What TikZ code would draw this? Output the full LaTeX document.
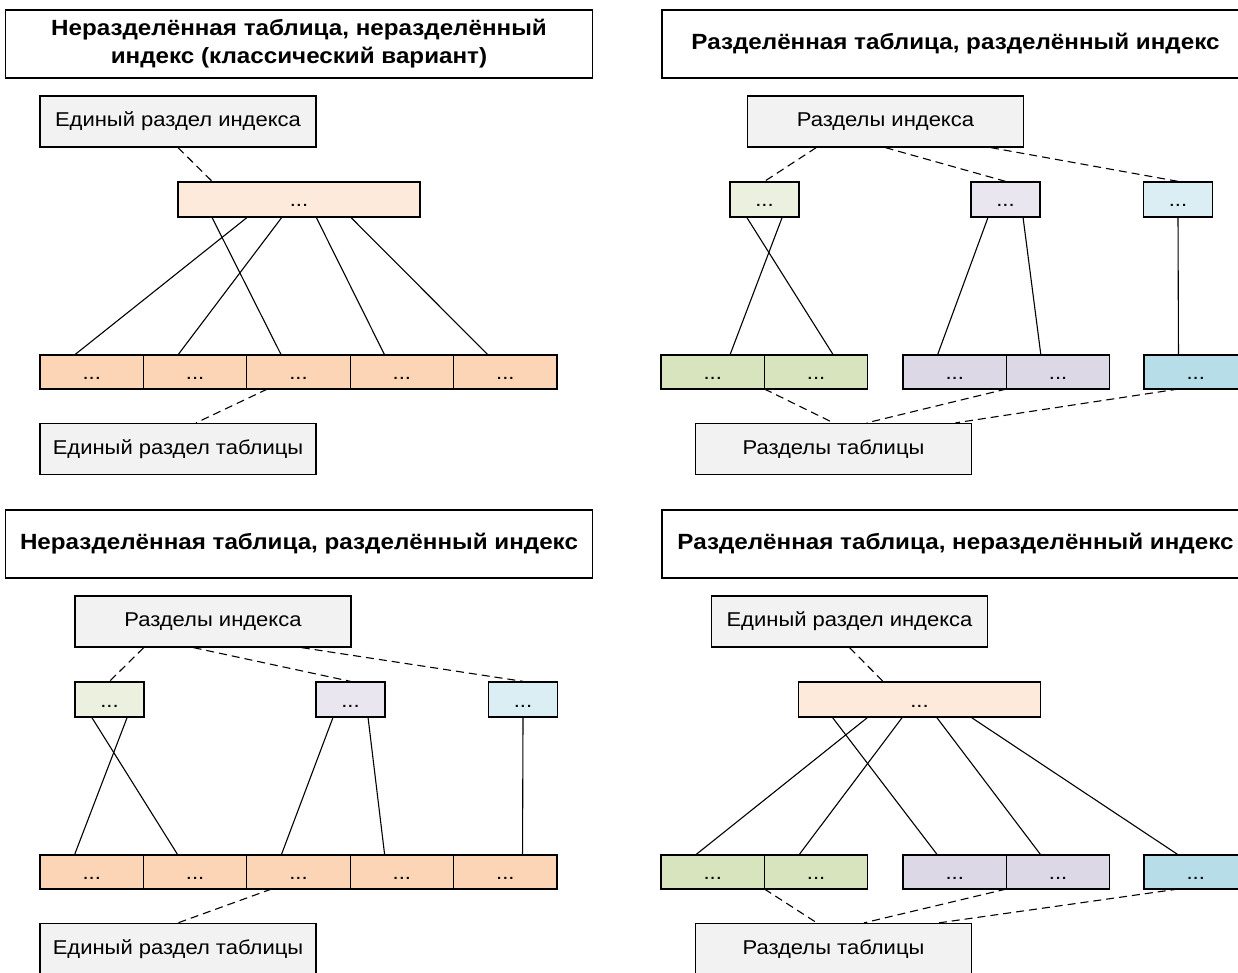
\documentclass[tikz,border=0pt]{standalone}
\usepackage{fontspec}
\setmainfont[FakeStretch=1.1]{Liberation Sans}
\usetikzlibrary{positioning, calc}
\definecolor{partgrey}{HTML}{F2F2F2}
\definecolor{orgA}{HTML}{FDEADA}
\definecolor{orgB}{HTML}{FBD5B5}
\definecolor{grnA}{HTML}{EBF1DE}
\definecolor{grnB}{HTML}{D7E4BD}
\definecolor{purA}{HTML}{E9E6EF}
\definecolor{purB}{HTML}{DDD8E6}
\definecolor{bluA}{HTML}{DBEEF4}
\definecolor{bluB}{HTML}{B7DEE8}
\tikzset{
  head/.style = {rectangle, draw=black, line width=1.4pt, fill=white, minimum width=587pt, minimum height=68pt, align=center, font=\fontsize{22}{28}\selectfont\bfseries, inner sep=0pt},
  part/.style = {rectangle, draw=black, line width=1.3pt, fill=partgrey, minimum width=276pt, minimum height=51pt, font=\fontsize{20}{24}\selectfont, inner sep=0pt},
  cell/.style = {rectangle, draw=black, line width=1.3pt, fill=#1, minimum width=103.4pt, minimum height=34pt, inner sep=0pt, outer sep=0pt, text height=15pt, text depth=0pt, font=\fontsize{20}{24}\selectfont},
  key/.style = {rectangle, draw=black, line width=1.3pt, fill=#1, minimum width=69pt, minimum height=35pt, inner sep=0pt, text height=15pt, text depth=0pt, font=\fontsize{20}{24}\selectfont},
  wide/.style = {rectangle, draw=black, line width=1.3pt, fill=orgA, minimum width=242pt, minimum height=35pt, inner sep=0pt, text height=15pt, text depth=0pt, font=\fontsize{20}{24}\selectfont},
  link/.style = {line width=1.1pt},
  dlink/.style = {line width=1.1pt, dash pattern=on 8pt off 5pt}
}

\begin{document}
\begin{tikzpicture}[x=1pt, y=-1pt]
\useasboundingbox (0,0) rectangle (1238,973);

% ===== Panel 1 (top left) =====
\node[head] (p1t) at (299,44) {Неразделённая таблица, неразделённый\\индекс (классический вариант)};
\node[part] (p1i) at (178,121.5) {Единый раздел индекса};
\node[wide] (p1m) at (299,199.5) {...};
\node[cell=orgB, anchor=west] (p1c1) at (40,372) {...};
\node[cell=orgB, right=0pt of p1c1] (p1c2) {...};
\node[cell=orgB, right=0pt of p1c2] (p1c3) {...};
\node[cell=orgB, right=0pt of p1c3] (p1c4) {...};
\node[cell=orgB, right=0pt of p1c4] (p1c5) {...};
\node[part] (p1tab) at (178,449) {Единый раздел таблицы};

% ===== Panel 2 (top right) =====
\node[head] (p2t) at (955.5,44) {Разделённая таблица, разделённый индекс};
\node[part] (p2i) at (885.5,121.5) {Разделы индекса};
\node[key=grnA] (p2g) at (764.5,199.5) {...};
\node[key=purA] (p2p) at (1005.5,199.5) {...};
\node[key=bluA] (p2b) at (1178,199.5) {...};
\node[cell=grnB, anchor=west] (p2c1) at (661,372) {...};
\node[cell=grnB, right=0pt of p2c1] (p2c2) {...};
\node[cell=purB, anchor=west] (p2c3) at (903,372) {...};
\node[cell=purB, right=0pt of p2c3] (p2c4) {...};
\node[cell=bluB, anchor=west] (p2c5) at (1144,372) {...};
\node[part] (p2tab) at (833.5,449) {Разделы таблицы};

% ===== Panel 3 (bottom left) =====
\node[head] (p3t) at (299,544) {Неразделённая таблица, разделённый индекс};
\node[part] (p3i) at (213,621.5) {Разделы индекса};
\node[key=grnA] (p3g) at (109.5,699.5) {...};
\node[key=purA] (p3p) at (350.5,699.5) {...};
\node[key=bluA] (p3b) at (523,699.5) {...};
\node[cell=orgB, anchor=west] (p3c1) at (40,872) {...};
\node[cell=orgB, right=0pt of p3c1] (p3c2) {...};
\node[cell=orgB, right=0pt of p3c2] (p3c3) {...};
\node[cell=orgB, right=0pt of p3c3] (p3c4) {...};
\node[cell=orgB, right=0pt of p3c4] (p3c5) {...};
\node[part] (p3tab) at (178,949) {Единый раздел таблицы};

% ===== Panel 4 (bottom right) =====
\node[head] (p4t) at (955.5,544) {Разделённая таблица, неразделённый индекс};
\node[part] (p4i) at (849.5,621.5) {Единый раздел индекса};
\node[wide] (p4m) at (919.5,699.5) {...};
\node[cell=grnB, anchor=west] (p4c1) at (661,872) {...};
\node[cell=grnB, right=0pt of p4c1] (p4c2) {...};
\node[cell=purB, anchor=west] (p4c3) at (903,872) {...};
\node[cell=purB, right=0pt of p4c3] (p4c4) {...};
\node[cell=bluB, anchor=west] (p4c5) at (1144,872) {...};
\node[part] (p4tab) at (833.5,949) {Разделы таблицы};

% ----- LINKS -----
% Panel 1
\draw[dlink] (p1i.south) -- ($(p1m.north west)!1/7!(p1m.north east)$);
\draw[link] ($(p1m.south west)!1/7!(p1m.south east)$) -- ($(p1c3.north west)!1/3!(p1c3.north east)$);
\draw[link] ($(p1m.south west)!2/7!(p1m.south east)$) -- ($(p1c1.north west)!1/3!(p1c1.north east)$);
\draw[link] ($(p1m.south west)!3/7!(p1m.south east)$) -- ($(p1c2.north west)!1/3!(p1c2.north east)$);
\draw[link] ($(p1m.south west)!4/7!(p1m.south east)$) -- ($(p1c4.north west)!1/3!(p1c4.north east)$);
\draw[link] ($(p1m.south west)!5/7!(p1m.south east)$) -- ($(p1c5.north west)!1/3!(p1c5.north east)$);
\draw[dlink] ($(p1c3.south west)!0.2!(p1c3.south east)$) -- ($(p1tab.north west)!0.565!(p1tab.north east)$);

% Panel 2
\draw[dlink] ($(p2i.south west)!0.25!(p2i.south east)$) -- (p2g.north);
\draw[dlink] (p2i.south) -- (p2p.north);
\draw[dlink] ($(p2i.south west)!0.88!(p2i.south east)$) -- (p2b.north);
\draw[link] ($(p2g.south west)!1/4!(p2g.south east)$) -- ($(p2c2.north west)!2/3!(p2c2.north east)$);
\draw[link] ($(p2g.south west)!3/4!(p2g.south east)$) -- ($(p2c1.north west)!2/3!(p2c1.north east)$);
\draw[link] ($(p2p.south west)!1/4!(p2p.south east)$) -- ($(p2c3.north west)!1/3!(p2c3.north east)$);
\draw[link] ($(p2p.south west)!3/4!(p2p.south east)$) -- ($(p2c4.north west)!1/3!(p2c4.north east)$);
\draw[link] (p2b.south) -- ($(p2c5.north west)!1/3!(p2c5.north east)$);
\draw[dlink] (p2c1.south east) -- (p2tab.north);
\draw[dlink] (p2c3.south east) -- ($(p2tab.north west)!0.62!(p2tab.north east)$);
\draw[dlink] ($(p2c5.south west)!1/3!(p2c5.south east)$) -- ($(p2tab.north west)!0.94!(p2tab.north east)$);

% Panel 3
\draw[dlink] ($(p3i.south west)!0.25!(p3i.south east)$) -- (p3g.north);
\draw[dlink] ($(p3i.south west)!0.43!(p3i.south east)$) -- (p3p.north);
\draw[dlink] ($(p3i.south west)!0.82!(p3i.south east)$) -- (p3b.north);
\draw[link] ($(p3g.south west)!1/4!(p3g.south east)$) -- ($(p3c2.north west)!1/3!(p3c2.north east)$);
\draw[link] ($(p3g.south west)!3/4!(p3g.south east)$) -- ($(p3c1.north west)!1/3!(p3c1.north east)$);
\draw[link] ($(p3p.south west)!1/4!(p3p.south east)$) -- ($(p3c3.north west)!1/3!(p3c3.north east)$);
\draw[link] ($(p3p.south west)!3/4!(p3p.south east)$) -- ($(p3c4.north west)!1/3!(p3c4.north east)$);
\draw[link] (p3b.south) -- ($(p3c5.north west)!2/3!(p3c5.north east)$);
\draw[dlink] ($(p3c3.south west)!0.24!(p3c3.south east)$) -- (p3tab.north);

% Panel 4
\draw[dlink] (p4i.south) -- ($(p4m.north west)!0.35!(p4m.north east)$);
\draw[link] ($(p4m.south west)!1/7!(p4m.south east)$) -- ($(p4c3.north west)!1/3!(p4c3.north east)$);
\draw[link] ($(p4m.south west)!2/7!(p4m.south east)$) -- ($(p4c1.north west)!1/3!(p4c1.north east)$);
\draw[link] ($(p4m.south west)!3/7!(p4m.south east)$) -- ($(p4c2.north west)!1/3!(p4c2.north east)$);
\draw[link] ($(p4m.south west)!4/7!(p4m.south east)$) -- ($(p4c4.north west)!1/3!(p4c4.north east)$);
\draw[link] ($(p4m.south west)!5/7!(p4m.south east)$) -- ($(p4c5.north west)!1/3!(p4c5.north east)$);
\draw[dlink] (p4c1.south east) -- ($(p4tab.north west)!0.44!(p4tab.north east)$);
\draw[dlink] (p4c3.south east) -- ($(p4tab.north west)!0.61!(p4tab.north east)$);
\draw[dlink] ($(p4c5.south west)!1/3!(p4c5.south east)$) -- ($(p4tab.north west)!0.88!(p4tab.north east)$);

\end{tikzpicture}
\end{document}
